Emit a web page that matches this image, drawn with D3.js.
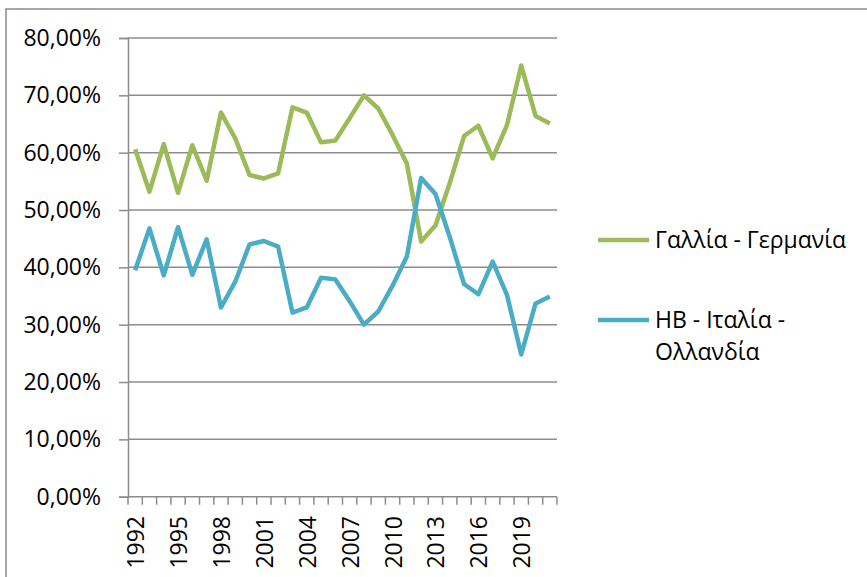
<!DOCTYPE html>
<html>
<head>
<meta charset="utf-8">
<script src="https://cdn.jsdelivr.net/npm/d3@7"></script>
<style>
  html, body { margin: 0; padding: 0; background: #fff; }
  svg { display: block; }
  text { font-family: "Open Sans", "Noto Sans", sans-serif; fill: #000; }
</style>
</head>
<body>
<svg id="chart" width="867" height="577"></svg>
<script>
const years = d3.range(1992, 2022).map(String);
const seriesNames = ["Γαλλία - Γερμανία", "HB - Ιταλία - Ολλανδία"];
const franceGermany = [60.6, 53.2, 61.5, 53.0, 61.3, 55.1, 67.0, 62.5, 56.1, 55.5,
                       56.4, 67.9, 67.0, 61.8, 62.1, 66.0, 70.0, 67.7, 63.1, 58.1,
                       44.5, 47.3, 54.7, 62.9, 64.7, 59.0, 64.8, 75.2, 66.4, 65.1];
const ukItalyNetherlands = [39.5, 46.8, 38.6, 47.0, 38.7, 44.9, 33.0, 37.5, 44.0, 44.6,
                            43.6, 32.1, 33.0, 38.2, 37.9, 34.1, 30.0, 32.3, 36.8, 41.9,
                            55.6, 52.8, 45.3, 37.1, 35.3, 41.0, 35.2, 24.8, 33.7, 34.9];
const yTicks = [0, 10, 20, 30, 40, 50, 60, 70, 80];
const xLabelEvery = 3;
const colors = ["#9BBB59", "#4BACC6"];

const svg = d3.select("#chart");
const pLeft = 128, pRight = 557, pTop = 38, pBottom = 496.7;
const fontSize = 23;

// chart area border
svg.append("rect").attr("x", 6).attr("y", 9).attr("width", 900).attr("height", 600)
  .attr("fill", "none").attr("stroke", "#8a8a8a").attr("stroke-width", 1.5);

const x = d3.scaleBand().domain(years).range([pLeft, pRight]).padding(0);
const y = d3.scaleLinear().domain([0, 80]).range([pBottom, pTop]);

// gridlines
svg.append("g").selectAll("line").data(yTicks.filter(d => d > 0)).join("line")
  .attr("x1", pLeft).attr("x2", pRight)
  .attr("y1", d => y(d)).attr("y2", d => y(d))
  .attr("stroke", "#8c8c8c").attr("stroke-width", 1.5);

// y axis
const yAxis = d3.axisLeft(y).tickValues(yTicks).tickSize(9).tickPadding(18)
  .tickFormat(d => d3.format(".2f")(d).replace(".", ",") + "%");
const gy = svg.append("g").attr("transform", `translate(${pLeft},0)`).call(yAxis);
gy.select(".domain").attr("stroke", "#8c8c8c").attr("stroke-width", 1.5);
gy.selectAll(".tick line").attr("stroke", "#8c8c8c").attr("stroke-width", 1.5);
gy.selectAll(".tick text").attr("font-size", fontSize).attr("font-family", "Open Sans").attr("fill", "#000");

// x axis: ticks at category boundaries
const boundaries = years.map(d => x(d)).concat([pRight]);
svg.append("line").attr("x1", pLeft).attr("x2", pRight).attr("y1", pBottom).attr("y2", pBottom)
  .attr("stroke", "#8c8c8c").attr("stroke-width", 1.5);
svg.append("g").selectAll("line").data(boundaries).join("line")
  .attr("x1", d => d).attr("x2", d => d)
  .attr("y1", pBottom).attr("y2", pBottom + 8)
  .attr("stroke", "#8c8c8c").attr("stroke-width", 1.5);
svg.append("g").selectAll("text").data(years.filter((d, i) => i % xLabelEvery === 0)).join("text")
  .attr("transform", d => `translate(${x(d) + x.bandwidth() / 2},516) rotate(-90)`)
  .attr("text-anchor", "end").attr("dominant-baseline", "central")
  .attr("font-size", fontSize).text(d => d);

// lines
const line = d3.line().x((d, i) => x(years[i]) + x.bandwidth() / 2).y(d => y(d));
[franceGermany, ukItalyNetherlands].forEach((s, k) => {
  svg.append("path").datum(s).attr("d", line)
    .attr("fill", "none").attr("stroke", colors[k]).attr("stroke-width", 4.5)
    .attr("stroke-linejoin", "round").attr("stroke-linecap", "butt");
});

// legend
const legend = svg.append("g");
const legendItems = [
  { lines: ["Γαλλία - Γερμανία"], y: 240 },
  { lines: ["HB - Ιταλία -", "Ολλανδία"], y: 320 }
];
legendItems.forEach((it, k) => {
  legend.append("line").attr("x1", 598).attr("x2", 649).attr("y1", it.y).attr("y2", it.y)
    .attr("stroke", colors[k]).attr("stroke-width", 4.5);
  const t = legend.append("text").attr("x", 655).attr("y", it.y + 8).attr("font-size", fontSize);
  it.lines.forEach((l, j) => t.append("tspan").attr("x", 655).attr("dy", j === 0 ? 0 : 32).text(l));
});
</script>
</body>
</html>
